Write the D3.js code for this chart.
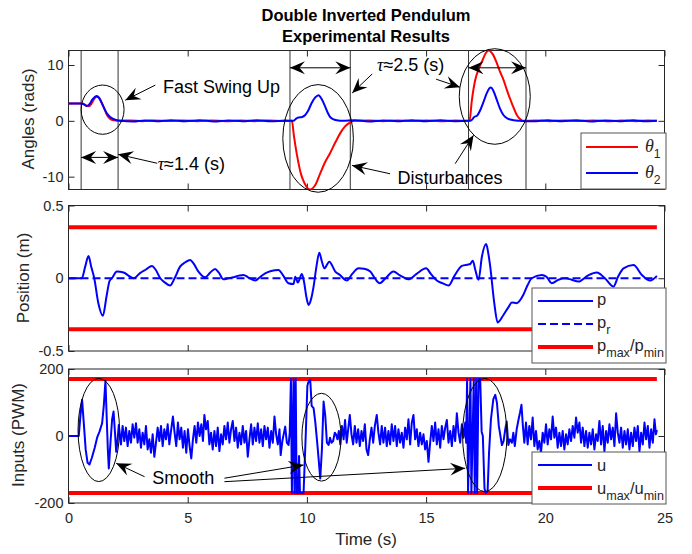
<!DOCTYPE html>
<html>
<head>
<meta charset="utf-8">
<script src="https://cdn.jsdelivr.net/npm/d3@7"></script>
<style>
  body { margin: 0; background: #fff; }
  svg { display: block; font-family: "Liberation Sans", Arial, Helvetica, sans-serif; }
</style>
</head>
<body>
<div id="chart"></div>
<script>
(function () {

  // ---- data ----
  var xTicks = [0, 5, 10, 15, 20, 25]
  var angleTicks = [-10, 0, 10]
  var posTicks = [-0.5, 0, 0.5]
  var inputTicks = [-200, 0, 200]

  // [time (s), angle (rads)]
  var theta1 = [[0,3.1],[0.5,3.1],[0.62,3.05],[0.75,2.75],[0.86,2.6],[0.96,3.05],[1.06,3.8],[1.17,4.3],[1.27,4.2],[1.38,3.4],[1.5,2.2],[1.62,1.0],[1.75,0.35],[1.9,0.08],[2.1,0],
    [2.6,0.08],[3.1,-0.06],[3.6,0.07],[4.2,-0.05],[4.8,0.08],[5.4,-0.06],[6.0,0.06],[6.6,-0.07],[7.2,0.05],[7.8,-0.06],[8.4,0.06],[9.0,-0.04],[9.37,0],
    [9.45,-2.5],[9.6,-6.5],[9.75,-9.5],[9.86,-10.8],[10.0,-11.9],[10.14,-12.3],[10.35,-11.5],[10.55,-9.5],[10.75,-7.5],[10.97,-5.8],[11.2,-3.8],[11.4,-2.2],[11.6,-1.0],[11.8,-0.3],[12.0,0],
    [12.6,0.06],[13.2,-0.06],[13.8,0.07],[14.4,-0.05],[15.0,0.06],[15.6,-0.07],[16.2,0.05],[16.82,0],
    [16.92,3.7],[17.06,7.3],[17.2,9.2],[17.34,10.6],[17.5,12.1],[17.62,12.6],[17.8,11.9],[17.97,10.3],[18.1,8.8],[18.25,7.3],[18.39,5.5],[18.6,3.1],[18.81,1.0],[18.95,0.3],[19.06,0],
    [19.6,0.06],[20.2,-0.06],[20.8,0.07],[21.4,-0.05],[22.0,0.06],[22.6,-0.07],[23.2,0.05],[23.8,-0.06],[24.3,0.06],[24.68,0]]

  var theta2 = [[0,3.1],[0.5,3.1],[0.62,3.0],[0.77,2.65],[0.88,3.0],[1.0,3.8],[1.12,4.35],[1.19,4.45],[1.28,4.1],[1.38,3.3],[1.47,2.5],[1.6,1.4],[1.75,0.7],[1.9,0.3],[2.03,0.1],[2.2,0],
    [2.7,-0.1],[3.2,0.08],[3.7,-0.09],[4.3,0.1],[4.9,-0.08],[5.5,0.09],[6.1,-0.1],[6.7,0.08],[7.3,-0.09],[7.9,0.1],[8.5,-0.08],[9.1,0.05],[9.43,0],
    [9.55,0.4],[9.64,0.6],[9.8,0.7],[9.92,1.0],[10.05,1.8],[10.2,3.2],[10.35,4.2],[10.49,4.6],[10.62,3.9],[10.77,2.5],[10.88,1.4],[10.97,0.7],[11.1,0.3],[11.26,0.1],[11.5,0],
    [12.0,0.09],[12.6,-0.1],[13.2,0.08],[13.8,-0.09],[14.4,0.1],[15.0,-0.08],[15.6,0.09],[16.2,-0.08],[16.85,0],
    [16.95,0.3],[17.0,0.6],[17.15,1.0],[17.27,1.9],[17.4,3.3],[17.55,5.0],[17.65,5.8],[17.72,5.95],[17.82,5.4],[17.97,3.7],[18.1,2.2],[18.25,1.0],[18.45,0.35],[18.67,0.1],[18.9,0],
    [19.5,-0.09],[20.1,0.1],[20.7,-0.08],[21.3,0.09],[21.9,-0.1],[22.5,0.08],[23.1,-0.09],[23.7,0.1],[24.2,-0.08],[24.68,0]]

  // [time (s), position (m)]
  var position = [[0,0],[0.56,0],[0.7,0.08],[0.84,0.153],[0.95,0.08],[1.08,0],[1.25,-0.17],[1.44,-0.258],[1.6,-0.12],[1.72,-0.02],[1.82,0],[2.03,0.046],[2.31,0.04],[2.5,0.02],[2.73,0],
    [3.0,0.035],[3.25,0.06],[3.5,0.085],[3.65,0.06],[3.85,0],[4.05,-0.03],[4.26,-0.05],[4.45,0],[4.68,0.08],[4.9,0.11],[5.1,0.125],[5.25,0.1],[5.45,0.046],[5.73,0.007],[5.95,0.04],
    [6.15,0.064],[6.3,0.04],[6.5,-0.007],[6.7,0],[6.92,0.007],[7.15,0.018],[7.34,0.023],[7.55,0.005],[7.83,-0.016],[8.05,0.01],[8.25,0.034],[8.5,0.05],[8.81,0.057],[9.0,0.02],
    [9.23,-0.034],[9.44,-0.04],[9.51,0.011],[9.62,-0.03],[9.79,0.03],[9.89,-0.034],[9.98,-0.13],[10.07,-0.183],[10.18,-0.14],[10.28,-0.057],[10.4,0.08],[10.52,0.176],[10.62,0.12],
    [10.73,0.068],[10.94,0.114],[11.19,0.046],[11.4,0.02],[11.6,-0.011],[11.68,-0.016],[11.9,0.03],[12.17,0.068],[12.4,0.065],[12.66,0.046],[12.85,0],[13.05,-0.034],[13.3,0],
    [13.63,0.046],[13.9,0.02],[14.26,-0.007],[14.6,0.03],[15.0,0.068],[15.2,0.03],[15.45,-0.016],[15.7,-0.035],[15.94,-0.05],[16.2,0.02],[16.5,0.085],[16.85,0.098],[16.96,0.121],
    [17.06,0.06],[17.2,-0.011],[17.34,0.148],[17.52,0.235],[17.6,0.18],[17.69,0.08],[17.86,-0.171],[18.0,-0.304],[18.25,-0.251],[18.45,-0.2],[18.6,-0.167],[18.8,-0.171],[19.08,-0.114],
    [19.25,-0.05],[19.43,0],[19.85,0.023],[20.05,0.01],[20.27,-0.034],[20.55,-0.01],[20.83,0],[21.1,-0.01],[21.39,-0.023],[21.8,0.02],[22.16,0.039],[22.5,0],[22.86,-0.057],[23.05,0.01],
    [23.28,0.068],[23.7,0.091],[24.05,0.023],[24.4,-0.016],[24.68,0.016]]

  var posRef = [[0,0],[24.68,0]]
  var posLimits = [0.35, -0.35]

  // [time (s), input (PWM)]
  var input = [[0,0],[0.43,0],[0.5,60],[0.57,108],[0.64,40],[0.72,-40],[0.8,-80],[0.88,-85],[0.98,-65],[1.1,-35],[1.2,-5],[1.3,13],[1.41,38],[1.48,90],[1.55,165],[1.6,60],[1.65,-40],
    [1.69,-97],[1.76,-20],[1.83,50],[1.89,73],[1.95,10],[2.0,-47],[2.06,-10],[2.11,33],
    [2.2,-25],[2.27,30],[2.34,-15],[2.41,25],[2.48,-30],[2.55,15],[2.62,-20],[2.69,35],[2.76,-5],[2.83,38],[2.9,-20],[2.97,20],[3.04,-35],[3.11,10],[3.18,-25],[3.25,30],[3.32,-40],
    [3.39,-10],[3.46,-50],[3.53,5],[3.6,-62],[3.67,-20],[3.74,25],[3.81,-15],[3.88,30],[3.95,-30],[4.02,20],[4.09,-10],[4.16,35],[4.23,-25],[4.3,15],[4.38,58],[4.45,10],[4.52,-30],
    [4.59,40],[4.66,-10],[4.73,25],[4.8,-35],[4.87,15],[4.94,-50],[5.01,20],[5.08,-30],[5.15,-67],[5.22,-10],[5.29,30],[5.36,-20],[5.43,40],[5.5,0],[5.57,35],[5.64,-15],[5.7,63],
    [5.77,20],[5.84,45],[5.91,-25],[5.98,10],[6.05,-40],[6.12,15],[6.19,-30],[6.26,25],[6.33,-45],[6.4,5],[6.47,-25],[6.54,30],[6.61,-10],[6.68,40],[6.75,-20],[6.82,20],[6.89,45],
    [6.96,-15],[7.03,25],[7.1,-35],[7.17,10],[7.24,-25],[7.31,30],[7.38,-20],[7.45,15],[7.52,-62],[7.59,-10],[7.66,35],[7.73,-25],[7.8,25],[7.87,-15],[7.94,38],[8.01,-20],[8.08,20],
    [8.15,-30],[8.22,30],[8.29,-10],[8.36,25],[8.43,-35],[8.5,15],[8.57,-20],[8.64,58],[8.71,5],[8.78,-25],[8.85,20],[8.9,-57],[8.97,-15],[9.04,10],[9.09,28],[9.16,-20],[9.23,-27],
    [9.28,10],
    [9.33,170],[9.37,-170],[9.44,170],[9.48,-170],[9.53,170],[9.57,-170],[9.63,-170],[9.67,-60],[9.71,-170],[9.86,-170],[9.95,0],[10.02,150],[10.08,165],[10.14,168],
    [10.2,90],[10.28,83],[10.35,43],[10.42,-10],[10.49,-67],[10.56,-127],[10.63,-40],[10.7,103],[10.77,60],[10.84,-20],[10.91,-27],[10.97,-5],[11.03,-20],[11.1,-15],[11.17,10],
    [11.22,5],[11.28,-10],[11.34,15],
    [11.4,-25],[11.47,30],[11.54,-10],[11.6,48],[11.67,-20],[11.74,25],[11.8,63],[11.87,5],[11.94,-25],[12.01,30],[12.08,-20],[12.15,20],[12.22,-30],[12.29,15],[12.36,-15],[12.43,35],
    [12.5,-40],[12.57,-57],[12.64,-10],[12.71,25],[12.78,-20],[12.85,30],[12.93,63],[13.0,10],[13.07,-25],[13.14,30],[13.21,-20],[13.28,25],[13.35,-30],[13.42,15],[13.49,-25],[13.56,35],
    [13.63,-15],[13.7,30],[13.77,-30],[13.84,20],[13.91,-20],[13.98,10],[14.05,-35],[14.12,25],[14.19,-10],[14.26,50],[14.33,-25],[14.4,40],[14.47,63],[14.54,-10],[14.61,20],[14.68,-30],
    [14.75,10],[14.82,-25],[14.89,5],[14.96,-40],[15.03,-15],[15.1,-77],[15.17,-20],[15.24,30],[15.31,-15],[15.38,40],[15.45,-25],[15.52,20],[15.59,-35],[15.66,30],[15.73,-10],[15.8,25],
    [15.87,48],[15.94,-20],[16.01,15],[16.08,-30],[16.15,30],[16.22,-15],[16.29,68],[16.36,10],[16.43,-20],[16.5,35],[16.57,-5],[16.64,40],
    [16.68,-20],[16.72,170],[16.76,-170],[16.86,170],[16.9,-170],[17.0,170],[17.04,-170],[17.1,170],[17.14,-170],[17.2,170],[17.27,170],[17.33,13],[17.38,0],[17.45,-157],[17.5,-170],
    [17.58,-165],[17.64,-50],[17.72,50],[17.82,110],[17.9,123],[17.97,100],[18.05,30],[18.18,-27],[18.25,-15],[18.32,20],[18.38,43],[18.45,-27],[18.52,-10],[18.6,-20],[18.66,10],
    [18.72,-30],[18.8,20],[18.88,50],[18.94,70],[19.0,93],[19.06,30],
    [19.12,-20],[19.19,40],[19.26,-25],[19.33,30],[19.4,-10],[19.47,55],[19.54,-30],[19.61,15],[19.68,-40],[19.75,-15],[19.82,-50],[19.89,10],[19.96,-20],[20.03,35],[20.1,-25],[20.17,20],
    [20.24,-10],[20.31,58],[20.38,-5],[20.45,25],[20.52,-35],[20.59,10],[20.66,-30],[20.73,15],[20.8,-40],[20.87,5],[20.94,-25],[21.01,20],[21.08,-15],[21.15,30],[21.22,-5],[21.29,55],
    [21.36,10],[21.43,40],[21.5,-20],[21.57,25],[21.64,-30],[21.71,15],[21.78,-35],[21.85,10],[21.92,-25],[21.99,20],[22.06,-40],[22.13,5],[22.2,-15],[22.27,45],[22.34,-25],[22.41,30],
    [22.48,-45],[22.55,15],[22.62,-20],[22.69,35],[22.76,-10],[22.83,25],[22.9,-30],[22.97,68],[23.04,10],[23.11,-20],[23.18,25],[23.25,-35],[23.32,15],[23.39,-25],[23.46,20],[23.53,-40],
    [23.6,10],[23.67,-30],[23.74,25],[23.81,-15],[23.88,30],[23.95,-45],[24.02,10],[24.09,-25],[24.16,40],[24.23,-10],[24.3,30],[24.37,-35],[24.44,20],[24.51,-20],[24.58,50],[24.64,5],[24.68,18]]

  var inputLimits = [170, -170]
  var tEnd = 24.68

  // ---- annotations, in data units of their panel ----
  var topVLines = [0.53, 2.08, 9.29, 11.82, 16.78, 19.19]
  var topSpans = [[0.53, 2.08, -6.55], [9.29, 11.82, 9.5], [16.78, 19.19, 9.5]]
  var topEllipses = [[1.43, 2.0, 0.9, 4.41], [10.47, -3.15, 1.48, 9.64], [17.88, 4.36, 1.49, 8.56]]
  var topArrows = [[3.64, 6.4, 2.38, 3.7], [3.72, -7.6, 2.08, -6.0], [12.74, 8.4, 11.9, 5.0],
    [15.42, 7.46, 16.42, 6.02], [13.49, -9.48, 11.89, -7.98], [16.22, -7.68, 16.99, -2.58]]
  var botEllipses = [[1.27, 17.9, 0.87, 154], [10.61, -3.6, 0.82, 131], [17.46, 3, 0.93, 169]]
  var botArrows = [[3.19, -121.5, 2.0, -81.5], [6.54, -126, 9.86, -86.6], [6.54, -136.4, 16.64, -96.4]]

  // ---- layout ----
  var W = 692, H = 554
  var ink = "#262626"

  var svg = d3.select("#chart").append("svg")
    .attr("width", W)
    .attr("height", H)

  var x = d3.scaleLinear().domain([0, 25]).range([68.5, 664.5])

  var yTop = d3.scaleLinear().domain([-12.3, 12.6]).range([189.5, 50.5])
  var yMid = d3.scaleLinear().domain([-0.5, 0.5]).range([351, 205.5])
  var yBot = d3.scaleLinear().domain([-200, 200]).range([503, 369])

  function lineFor(y, curve) {
    return d3.line()
      .curve(curve || d3.curveLinear)
      .x(function (d) { return x(d[0]) })
      .y(function (d) { return y(d[1]) })
  }

  function frame(y, ticks, name, showX) {
    var r = y.range()
    var g = svg.append("g")

    svg.append("clipPath").attr("id", "clip-" + name)
      .append("rect")
      .attr("x", x.range()[0]).attr("y", r[1])
      .attr("width", x.range()[1] - x.range()[0]).attr("height", r[0] - r[1])

    g.append("g")
      .attr("transform", "translate(" + x.range()[0] + ",0)")
      .call(d3.axisLeft(y).tickValues(ticks).tickSizeInner(-6).tickSizeOuter(0).tickPadding(5)
        .tickFormat(function (d) { return String(d) }))
    g.append("g")
      .attr("transform", "translate(" + x.range()[1] + ",0)")
      .call(d3.axisRight(y).tickValues(ticks).tickSizeInner(-6).tickSizeOuter(0).tickFormat(""))
    g.append("g")
      .attr("transform", "translate(0," + r[0] + ")")
      .call(d3.axisBottom(x).tickValues(xTicks).tickSizeInner(-6).tickSizeOuter(0).tickPadding(10)
        .tickFormat(showX ? function (d) { return String(d) } : ""))
    g.append("g")
      .attr("transform", "translate(0," + r[1] + ")")
      .call(d3.axisTop(x).tickValues(xTicks).tickSizeInner(-6).tickSizeOuter(0).tickFormat(""))

    g.selectAll(".domain").remove()
    g.selectAll(".tick line").attr("stroke", ink).attr("stroke-width", 1)
    g.selectAll(".tick text")
      .attr("fill", ink)
      .attr("font-size", 14.5)
      .attr("font-family", '"Liberation Sans", Arial, sans-serif')
    g.selectAll("g").attr("font-family", null).attr("font-size", null)

    g.append("rect")
      .attr("x", x.range()[0]).attr("y", r[1])
      .attr("width", x.range()[1] - x.range()[0]).attr("height", r[0] - r[1])
      .attr("fill", "none")
      .attr("stroke", ink)
      .attr("stroke-width", 1)
  }

  function yLabel(text, cx, cy) {
    svg.append("text")
      .attr("transform", "translate(" + cx + "," + cy + ") rotate(-90)")
      .attr("text-anchor", "middle")
      .attr("font-size", 17)
      .attr("fill", ink)
      .text(text)
  }

  function arrowHead(g, x1, y1, x2, y2) {
    var a = Math.atan2(y2 - y1, x2 - x1) * 180 / Math.PI
    g.append("path")
      .attr("d", "M0,0L-15,-6.5L-9.5,0L-15,6.5Z")
      .attr("transform", "translate(" + x2 + "," + y2 + ") rotate(" + a + ")")
      .attr("fill", "#000")
  }

  function arrow(g, x1, y1, x2, y2, both) {
    g.append("line")
      .attr("x1", x1).attr("y1", y1).attr("x2", x2).attr("y2", y2)
      .attr("stroke", "#000").attr("stroke-width", 1)
    arrowHead(g, x1, y1, x2, y2)
    if (both) arrowHead(g, x2, y2, x1, y1)
  }

  function ellipses(g, y, list) {
    g.selectAll("ellipse.mark")
      .data(list)
      .enter().append("ellipse")
      .attr("cx", function (d) { return x(d[0]) })
      .attr("cy", function (d) { return y(d[1]) })
      .attr("rx", function (d) { return x(d[0] + d[2]) - x(d[0]) })
      .attr("ry", function (d) { return y(d[1]) - y(d[1] + d[3]) })
      .attr("fill", "none")
      .attr("stroke", "#000")
      .attr("stroke-width", 1)
  }

  function note(g, parts, tx, ty) {
    var t = g.append("text")
      .attr("x", tx).attr("y", ty)
      .attr("font-size", 18)
      .attr("fill", "#000")
    parts.forEach(function (p) {
      var s = t.append("tspan").text(p[0])
      if (p[1]) s.attr("font-family", '"Liberation Serif", serif').attr("font-style", "italic")
    })
  }

  function legendBox(bx, by, bw, bh) {
    var g = svg.append("g")
    g.append("rect")
      .attr("x", bx).attr("y", by).attr("width", bw).attr("height", bh)
      .attr("fill", "#fff").attr("stroke", "#555").attr("stroke-width", 1)
    return g
  }

  function legendLine(g, x1, x2, ly, color, width, dash) {
    g.append("line")
      .attr("x1", x1).attr("x2", x2).attr("y1", ly).attr("y2", ly)
      .attr("stroke", color).attr("stroke-width", width)
      .attr("stroke-dasharray", dash || null)
  }

  function legendText(g, lx, ly, parts, size) {
    var t = g.append("text").attr("x", lx).attr("y", ly).attr("font-size", size).attr("fill", ink)
    parts.forEach(function (p) {
      var s = t.append("tspan").text(p[0])
      if (p[1] === "sub") s.attr("font-size", size * 0.76).attr("dy", 6)
      if (p[1] === "up") s.attr("dy", -6)
      if (p[1] === "theta") s.attr("font-family", '"Liberation Serif", serif').attr("font-style", "italic").attr("font-size", size + 2)
    })
  }

  // ---- title ----
  svg.append("text")
    .attr("x", 366).attr("y", 20.5)
    .attr("text-anchor", "middle").attr("font-weight", "bold").attr("font-size", 16.5).attr("fill", "#000")
    .text("Double Inverted Pendulum")
  svg.append("text")
    .attr("x", 366).attr("y", 41.5)
    .attr("text-anchor", "middle").attr("font-weight", "bold").attr("font-size", 16.5).attr("fill", "#000")
    .text("Experimental Results")

  // ---- top panel: angles ----
  frame(yTop, angleTicks, "top", false)
  var gTop = svg.append("g")

  gTop.selectAll("line.vline")
    .data(topVLines)
    .enter().append("line")
    .attr("class", "vline")
    .attr("x1", function (d) { return x(d) }).attr("x2", function (d) { return x(d) })
    .attr("y1", yTop.range()[1]).attr("y2", yTop.range()[0])
    .attr("stroke", "#333").attr("stroke-width", 1)

  var gTopData = gTop.append("g").attr("clip-path", "url(#clip-top)")
  gTopData.append("path")
    .datum(theta1)
    .attr("d", lineFor(yTop, d3.curveMonotoneX))
    .attr("fill", "none").attr("stroke", "#ff0000").attr("stroke-width", 2)
  gTopData.append("path")
    .datum(theta2)
    .attr("d", lineFor(yTop, d3.curveMonotoneX))
    .attr("fill", "none").attr("stroke", "#0000ff").attr("stroke-width", 2)

  ellipses(gTop, yTop, topEllipses)
  topSpans.forEach(function (s) {
    arrow(gTop, x(s[0]), yTop(s[2]), x(s[1]), yTop(s[2]), true)
  })
  topArrows.forEach(function (a) {
    arrow(gTop, x(a[0]), yTop(a[1]), x(a[2]), yTop(a[3]), false)
  })
  note(gTop, [["Fast Swing Up"]], x(3.96), yTop(4.94))
  note(gTop, [["τ", true], ["≈1.4 (s)"]], x(3.74), yTop(-8.88))
  note(gTop, [["τ", true], ["≈2.5 (s)"]], x(12.94), yTop(9.0))
  note(gTop, [["Disturbances"]], x(13.8), yTop(-11.28))

  var lgTop = legendBox(581, 133, 85, 56)
  legendLine(lgTop, 586, 638, 147, "#ff0000", 2)
  legendLine(lgTop, 586, 638, 173, "#0000ff", 2)
  legendText(lgTop, 645, 152, [["θ", "theta"], ["1", "sub"]], 16)
  legendText(lgTop, 645, 178, [["θ", "theta"], ["2", "sub"]], 16)

  yLabel("Angles (rads)", 33.5, 119)

  // ---- middle panel: position ----
  frame(yMid, posTicks, "mid", false)
  var gMid = svg.append("g").attr("clip-path", "url(#clip-mid)")

  gMid.selectAll("line.limit")
    .data(posLimits)
    .enter().append("line")
    .attr("x1", x(0)).attr("x2", x(tEnd))
    .attr("y1", function (d) { return yMid(d) }).attr("y2", function (d) { return yMid(d) })
    .attr("stroke", "#ff0000").attr("stroke-width", 4)
  gMid.append("path")
    .datum(posRef)
    .attr("d", lineFor(yMid))
    .attr("fill", "none").attr("stroke", "#0000ff").attr("stroke-width", 2).attr("stroke-dasharray", "8,4")
  gMid.append("path")
    .datum(position)
    .attr("d", lineFor(yMid, d3.curveMonotoneX))
    .attr("fill", "none").attr("stroke", "#0000ff").attr("stroke-width", 2)

  var lgMid = legendBox(532, 288, 134, 75)
  legendLine(lgMid, 538, 593, 301, "#0000ff", 2)
  legendLine(lgMid, 538, 593, 324, "#0000ff", 2, "8,4")
  legendLine(lgMid, 538, 593, 347, "#ff0000", 4)
  legendText(lgMid, 597, 305, [["p"]], 16.5)
  legendText(lgMid, 597, 328, [["p"], ["r", "sub"]], 16.5)
  legendText(lgMid, 597, 351, [["p"], ["max", "sub"], ["/", "up"], ["p"], ["min", "sub"]], 16.5)

  yLabel("Position (m)", 28.5, 278)

  // ---- bottom panel: inputs ----
  frame(yBot, inputTicks, "bot", true)
  var gBot = svg.append("g")
  var gBotData = gBot.append("g").attr("clip-path", "url(#clip-bot)")

  gBotData.selectAll("line.limit")
    .data(inputLimits)
    .enter().append("line")
    .attr("x1", x(0)).attr("x2", x(tEnd))
    .attr("y1", function (d) { return yBot(d) }).attr("y2", function (d) { return yBot(d) })
    .attr("stroke", "#ff0000").attr("stroke-width", 4)
  gBotData.append("path")
    .datum(input)
    .attr("d", lineFor(yBot))
    .attr("fill", "none").attr("stroke", "#0000ff").attr("stroke-width", 2).attr("stroke-linejoin", "round")

  ellipses(gBot, yBot, botEllipses)
  botArrows.forEach(function (a) {
    arrow(gBot, x(a[0]), yBot(a[1]), x(a[2]), yBot(a[3]), false)
  })
  note(gBot, [["Smooth"]], x(3.51), yBot(-143))

  var lgBot = legendBox(532, 452, 134, 52)
  legendLine(lgBot, 538, 592, 465, "#0000ff", 2)
  legendLine(lgBot, 538, 592, 488, "#ff0000", 4)
  legendText(lgBot, 597, 471, [["u"]], 16.5)
  legendText(lgBot, 597, 494, [["u"], ["max", "sub"], ["/", "up"], ["u"], ["min", "sub"]], 16.5)

  yLabel("Inputs (PWM)", 23.5, 435)

  svg.append("text")
    .attr("x", 366).attr("y", 545)
    .attr("text-anchor", "middle").attr("font-size", 17).attr("fill", ink)
    .text("Time (s)")

})()
</script>
</body>
</html>
